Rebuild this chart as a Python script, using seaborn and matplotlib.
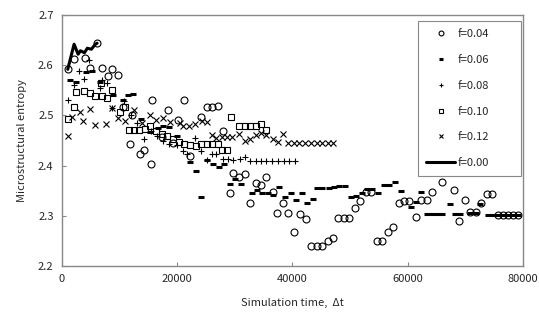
import numpy as np
import pandas as pd
import matplotlib
matplotlib.use("Agg")
import matplotlib.pyplot as plt
import seaborn as sns

# dane (czas symulacji, entropia)
t_f000 = [1000, 2100, 2800, 3200, 3900, 4400, 5100, 5800, 6100]
s_f000 = [2.592, 2.642, 2.622, 2.629, 2.625, 2.634, 2.632, 2.642, 2.644]

t_f004 = [1000, 2100, 4000, 4900, 6000, 6900, 8000, 8700, 9700, 10600,
          11800, 12100, 13500, 14300, 15400, 15600, 17400, 18400, 19300, 20200,
          21200, 22200, 24100, 25100, 26000, 27000, 27900, 29150, 29700, 30800,
          31700, 32700, 33700, 34600, 35500, 36600, 37400, 38400, 39300, 40300,
          41300, 42300, 43200, 44200, 45100, 46100, 47000, 47900, 48900, 49900,
          50800, 51700, 52700, 53700, 54700, 55600, 56600, 57500, 58500, 59400,
          60300, 61400, 62300, 63300, 64300, 66000, 68000, 68900, 69900, 70800,
          71800, 72700, 73700, 74700, 75700, 76600, 77400, 78300, 79200]
s_f004 = [2.592, 2.612, 2.614, 2.594, 2.644, 2.594, 2.578, 2.592, 2.580, 2.517,
          2.444, 2.500, 2.424, 2.431, 2.403, 2.531, 2.458, 2.511, 2.446, 2.492,
          2.531, 2.419, 2.497, 2.517, 2.517, 2.519, 2.469, 2.346, 2.386, 2.377,
          2.383, 2.326, 2.366, 2.361, 2.378, 2.348, 2.306, 2.326, 2.305, 2.267,
          2.303, 2.293, 2.240, 2.240, 2.240, 2.250, 2.255, 2.296, 2.296, 2.296,
          2.316, 2.330, 2.348, 2.348, 2.250, 2.250, 2.267, 2.278, 2.326, 2.330,
          2.330, 2.298, 2.331, 2.331, 2.348, 2.367, 2.351, 2.290, 2.331, 2.308,
          2.308, 2.325, 2.343, 2.343, 2.301, 2.301, 2.301, 2.301, 2.301]

t_f006 = [1400, 2400, 4100, 5200, 6600, 8900, 10600, 11500, 12300, 13700,
          15300, 16600, 17600, 18600, 20000, 22300, 23300, 24200, 25100, 26200,
          27200, 28200, 29150, 30000, 31000, 32900, 33900, 34800, 35800, 36700,
          37700, 38700, 39700, 40600, 41600, 42500, 43500, 44300, 45200, 46300,
          47200, 48100, 49100, 50100, 51000, 52000, 53000, 53900, 54900, 55900,
          56800, 57800, 58800, 60600, 61400, 62400, 63300, 64200, 65100, 66000,
          67300, 68200, 69100, 70800, 71800, 72600, 73900, 74800, 75700, 76600,
          77400, 78300, 79200]
s_f006 = [2.570, 2.567, 2.586, 2.588, 2.567, 2.541, 2.531, 2.541, 2.542, 2.494,
          2.468, 2.476, 2.479, 2.478, 2.460, 2.407, 2.390, 2.337, 2.411, 2.403,
          2.397, 2.403, 2.363, 2.373, 2.363, 2.346, 2.351, 2.346, 2.345, 2.341,
          2.358, 2.338, 2.346, 2.331, 2.346, 2.325, 2.333, 2.355, 2.355, 2.355,
          2.357, 2.359, 2.359, 2.337, 2.339, 2.346, 2.353, 2.353, 2.346, 2.361,
          2.361, 2.368, 2.349, 2.318, 2.328, 2.348, 2.304, 2.304, 2.304, 2.304,
          2.323, 2.304, 2.304, 2.306, 2.306, 2.323, 2.302, 2.302, 2.302, 2.302,
          2.302, 2.302, 2.302]

t_f008 = [1000, 2100, 3000, 3900, 4700, 6600, 6900, 7800, 8600, 10800,
          12000, 13000, 14300, 15500, 16500, 17500, 18500, 19900, 21050, 21650,
          23100, 24100, 25100, 26000, 26800, 28000, 28800, 29700, 30900, 31700,
          32600, 33600, 34600, 35500, 36500, 37500, 38500, 39400, 40400]
s_f008 = [2.531, 2.561, 2.588, 2.572, 2.610, 2.554, 2.571, 2.564, 2.514, 2.529,
          2.500, 2.486, 2.454, 2.470, 2.460, 2.450, 2.444, 2.441, 2.430, 2.424,
          2.456, 2.430, 2.411, 2.423, 2.423, 2.414, 2.414, 2.411, 2.413, 2.417,
          2.410, 2.410, 2.410, 2.410, 2.410, 2.410, 2.410, 2.410, 2.410]

t_f010 = [1100, 2000, 2500, 3900, 4900, 5800, 6700, 6900, 7800, 8700,
          10100, 10900, 11600, 12500, 13400, 14400, 15300, 16300, 17400, 18300,
          19300, 20300, 21200, 22200, 23200, 24100, 25100, 26100, 27000, 27700,
          28700, 29400, 30700, 31700, 32700, 33700, 34600, 35500]
s_f010 = [2.494, 2.517, 2.547, 2.549, 2.545, 2.539, 2.564, 2.539, 2.534, 2.551,
          2.507, 2.517, 2.472, 2.471, 2.472, 2.474, 2.479, 2.470, 2.464, 2.459,
          2.454, 2.448, 2.443, 2.441, 2.440, 2.443, 2.443, 2.443, 2.443, 2.431,
          2.431, 2.497, 2.480, 2.479, 2.479, 2.479, 2.483, 2.471]

t_f012 = [1100, 1700, 3100, 3700, 4900, 5700, 7700, 8600, 9800, 11000,
          12500, 13900, 15300, 16400, 17600, 18700, 20400, 21000, 22000, 23100,
          24300, 25100, 26000, 26800, 27700, 28600, 29500, 30700, 31700, 32600,
          33700, 34600, 35500, 36600, 37500, 38400, 39300, 40300, 41200, 42200,
          43200, 44200, 45100, 46100, 47100]
s_f012 = [2.459, 2.497, 2.507, 2.489, 2.512, 2.481, 2.484, 2.514, 2.496, 2.490,
          2.511, 2.486, 2.500, 2.492, 2.496, 2.487, 2.486, 2.479, 2.479, 2.483,
          2.489, 2.487, 2.461, 2.456, 2.458, 2.458, 2.458, 2.464, 2.450, 2.454,
          2.461, 2.466, 2.461, 2.454, 2.448, 2.464, 2.446, 2.446, 2.446, 2.446,
          2.446, 2.446, 2.446, 2.446, 2.446]

x_ticks = [0, 20000, 40000, 60000, 80000]
y_ticks = [2.2, 2.3, 2.4, 2.5, 2.6, 2.7]

sns.set_style("ticks")
plt.rcParams['font.family'] = ['Noto Sans CJK JP', 'DejaVu Sans']

fig, ax = plt.subplots(figsize=(5.39, 3.21), dpi=100)
fig.subplots_adjust(left=0.115, right=0.970, top=0.953, bottom=0.171)

# serie punktowe
sns.lineplot(x=t_f004, y=s_f004, ax=ax, estimator=None, sort=False, linestyle="",
             marker="o", markersize=5, mfc="none", mec="black", mew=0.8, label="f=0.04")
sns.lineplot(x=t_f006, y=s_f006, ax=ax, estimator=None, sort=False, linestyle="",
             marker="_", markersize=4, mec="black", mew=2.2, label="f=0.06")
sns.lineplot(x=t_f008, y=s_f008, ax=ax, estimator=None, sort=False, linestyle="",
             marker="+", markersize=5, mec="black", mew=0.8, label="f=0.08")
sns.lineplot(x=t_f010, y=s_f010, ax=ax, estimator=None, sort=False, linestyle="",
             marker="s", markersize=5, mfc="none", mec="black", mew=0.8, label="f=0.10")
sns.lineplot(x=t_f012, y=s_f012, ax=ax, estimator=None, sort=False, linestyle="",
             marker="x", markersize=4.5, mec="black", mew=0.8, label="f=0.12")
sns.lineplot(x=t_f000, y=s_f000, ax=ax, estimator=None, sort=False,
             color="black", linewidth=2.2, label="f=0.00")

ax.set_xlim(0, 80000)
ax.set_ylim(2.2, 2.7)
ax.set_xticks(x_ticks)
ax.set_xticklabels([str(v) for v in x_ticks])
ax.set_yticks(y_ticks)
ax.set_yticklabels([f"{v:.1f}" for v in y_ticks])
ax.tick_params(direction="in", length=3, width=0.8, color="#888888", labelsize=8, pad=6)
for sp in ax.spines.values():
    sp.set_color("#888888")
    sp.set_linewidth(1.0)

ax.set_xlabel("Simulation time,  \u0394t", fontsize=8, labelpad=10)
ax.set_ylabel("Microstructural entropy", fontsize=8, labelpad=8)

# legenda w ramce po prawej stronie
leg = ax.legend(loc="upper left", bbox_to_anchor=(0.772, 0.977, 0.224, 0.0), mode="expand",
                fontsize=8, frameon=True, fancybox=False, edgecolor="#888888", framealpha=1,
                labelspacing=1.42, handlelength=2.6, handletextpad=0.2,
                borderpad=0.75, borderaxespad=0.0, markerscale=0.7)
leg.get_frame().set_linewidth(0.8)

plt.savefig("out.png", dpi=100)
plt.close()
